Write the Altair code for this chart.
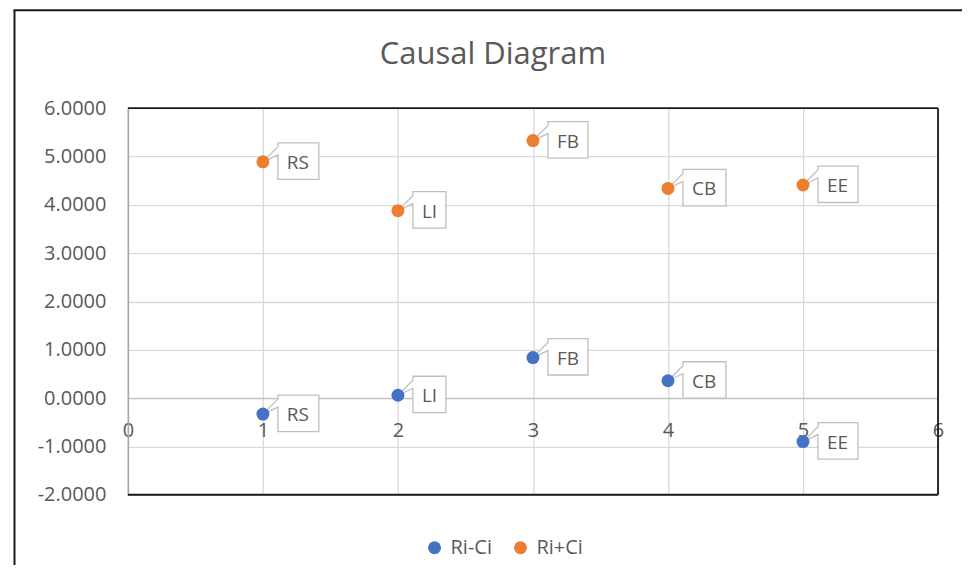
import altair as alt
import pandas as pd

# ---- data ----
x_vals = [1, 2, 3, 4, 5]
labels = ["RS", "LI", "FB", "CB", "EE"]
ri_minus_ci = [-0.33, 0.06, 0.84, 0.36, -0.90]
ri_plus_ci = [4.89, 3.88, 5.33, 4.34, 4.41]
series_names = ["Ri-Ci", "Ri+Ci"]
series_colors = ["#4472C4", "#ED7D31"]
x_ticks = [0, 1, 2, 3, 4, 5, 6]
y_ticks = [-2, -1, 0, 1, 2, 3, 4, 5, 6]
title_text = "Causal Diagram"

# ---- style ----
box_width = {"RS": 41, "LI": 33, "FB": 40, "CB": 43, "EE": 40}
TXT = "#595959"
FONT = "Open Sans"
W, H = 811, 387
YMIN, YMAX = -2, 6


def callout_path(w):
    return f"M15,-19H{15 + w}V17.5H15V-7L0,0L15,-15Z"


rows = []
for name, vals in zip(series_names, [ri_minus_ci, ri_plus_ci]):
    for xv, lab, yv in zip(x_vals, labels, vals):
        rows.append({"x": xv, "y": yv, "label": lab, "series": name,
                     "path": callout_path(box_width[lab])})
df = pd.DataFrame(rows)

xscale = alt.Scale(domain=[0, 6], nice=False, zero=False)
yscale = alt.Scale(domain=[YMIN, YMAX], nice=False, zero=False)

base = alt.Chart(df)

x_enc = alt.X("x:Q", scale=xscale, title=None,
              axis=alt.Axis(values=x_ticks, format="d", ticks=False,
                            domain=True, domainColor="#bfbfbf", domainWidth=1.3,
                            offset=-H * (0 - YMIN) / (YMAX - YMIN),
                            labelPadding=22, labelFlush=False,
                            labelFontSize=20, labelColor=TXT, labelFont=FONT,
                            grid=True, gridColor="#d9d9d9", gridWidth=1.3))
y_enc = alt.Y("y:Q", scale=yscale, title=None,
              axis=alt.Axis(values=y_ticks, ticks=False,
                            labelExpr="replace(format(datum.value, '.4f'), '\u2212', '-')",
                            domain=True, domainColor="#a6a6a6", domainWidth=1.6,
                            labelPadding=22, labelFlush=False,
                            labelFontSize=20, labelColor=TXT, labelFont=FONT,
                            grid=True, gridColor="#d9d9d9", gridWidth=1.3))

one = pd.DataFrame({"k": [0]})
DARK = "#1a1a1a"

# plot-area border (top, right, bottom) drawn above the grid
border_top = alt.Chart(one).mark_rule(color=DARK, strokeWidth=1.8).encode(
    x=alt.value(0), x2=alt.value(W), y=alt.value(0))
border_right = alt.Chart(one).mark_rule(color=DARK, strokeWidth=1.8).encode(
    x=alt.value(W), y=alt.value(0), y2=alt.value(H))
border_bottom = alt.Chart(one).mark_rule(color=DARK, strokeWidth=2).encode(
    x=alt.value(0), x2=alt.value(W), y=alt.value(H))

boxes = base.mark_point(filled=True, fill="white", stroke="#bfbfbf",
                        strokeWidth=1.3, size=4, opacity=1).encode(
    x=x_enc, y=y_enc,
    shape=alt.Shape("path:N", scale=None, legend=None),
)

points = base.mark_circle(size=169, opacity=1).encode(
    x="x:Q", y="y:Q",
    color=alt.Color("series:N",
                    scale=alt.Scale(domain=series_names, range=series_colors),
                    legend=alt.Legend(title=None, orient="none", direction="horizontal",
                                      legendX=297, legendY=430,
                                      symbolType="circle", symbolSize=169,
                                      symbolStrokeWidth=0, labelOffset=6,
                                      columnPadding=18, padding=0,
                                      labelFontSize=20, labelColor=TXT, labelFont=FONT)),
)

texts = base.mark_text(align="left", baseline="middle", dx=24, dy=1,
                       fontSize=19, font=FONT, color=TXT).encode(
    x="x:Q", y="y:Q", text="label:N")

title = alt.Chart(one).mark_text(fontSize=31, font=FONT, color=TXT,
                                 align="center", baseline="alphabetic").encode(
    x=alt.value(365.5), y=alt.value(-44), text=alt.value(title_text))

frame_left = alt.Chart(one).mark_rule(color=DARK, strokeWidth=2).encode(
    x=alt.value(-113.5), y=alt.value(-98), y2=alt.value(500))
frame_top = alt.Chart(one).mark_rule(color=DARK, strokeWidth=2).encode(
    x=alt.value(-114.5), x2=alt.value(860), y=alt.value(-98))

chart = alt.layer(boxes, border_top, border_right, border_bottom,
                  points, texts, title, frame_left, frame_top).properties(
    width=W, height=H,
    padding={"left": 120, "top": 100, "right": 24, "bottom": 70},
    autosize=alt.AutoSizeParams(type="none"),
).configure_view(stroke=None)

chart.save("out.html", embed_options={"renderer": "svg", "actions": False})
